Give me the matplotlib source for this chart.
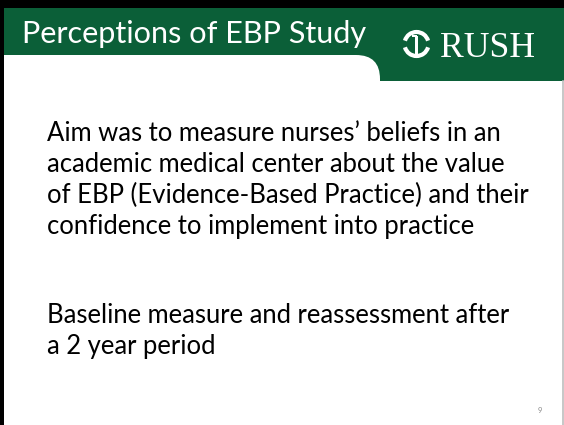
import matplotlib
matplotlib.use("Agg")
import matplotlib.pyplot as plt
from matplotlib.patches import Rectangle, FancyBboxPatch, Arc

# ---- content ----
title_text = "Perceptions of EBP Study"
logo_text = "RUSH"
paragraph1 = ["Aim was to measure nurses\u2019 beliefs in an",
              "academic medical center about the value",
              "of EBP (Evidence-Based Practice) and their",
              "confidence to implement into practice"]
paragraph2 = ["Baseline measure and reassessment after",
              "a 2 year period"]
page_number = "9"

GREEN = "#0b5f38"
W, H = 564, 425
BODY_FONT = ["Lato", "DejaVu Sans"]

fig = plt.figure(figsize=(W / 100, H / 100), dpi=100)
ax = fig.add_axes([0, 0, 1, 1])
ax.set_xlim(0, W)
ax.set_ylim(H, 0)
ax.axis("off")
fig.patch.set_facecolor("white")

# header band
ax.add_patch(Rectangle((0, 0), W, 81, facecolor=GREEN, edgecolor="none", zorder=1))
# white content area with rounded top-right corner
ax.add_patch(FancyBboxPatch((-100, 55), 480, 600,
                            boxstyle="round,pad=0,rounding_size=24",
                            facecolor="white", edgecolor="none", zorder=2))
ax.add_patch(Rectangle((0, 81), W, H, facecolor="white", edgecolor="none", zorder=1.5))
# borders
ax.add_patch(Rectangle((0, 0), W, 8, facecolor="black", edgecolor="none", zorder=5))
ax.add_patch(Rectangle((0, 0), 4, H, facecolor="black", edgecolor="none", zorder=5))
ax.plot([563, 563], [81, H], color="#bdbdbd", lw=1.2, zorder=5)

fig.canvas.draw()
renderer = fig.canvas.get_renderer()


def fitted_text(x, y, s, width, size0, **kw):
    t = ax.text(x, y, s, fontsize=size0, **kw)
    bb = t.get_window_extent(renderer=renderer)
    t.set_fontsize(size0 * width / bb.width)
    return t


# title
fitted_text(22, 43, title_text, 346, 20, color="white", family=BODY_FONT,
            va="baseline", ha="left", zorder=6)

# logo
fitted_text(440, 57, logo_text, 95, 20, color="white",
            family=["Liberation Serif", "DejaVu Serif"], va="baseline", ha="left", zorder=6)
cx, cy, r = 416.5, 44, 12
ax.add_patch(Arc((cx, cy), 2 * r, 2 * r, theta1=196, theta2=344, color="white", lw=3.0, zorder=6))
ax.add_patch(Arc((cx, cy), 2 * r, 2 * r, theta1=16, theta2=164, color="white", lw=3.0, zorder=6))
ax.add_patch(Rectangle((cx - 1.5, cy - 8), 3.0, 22, facecolor="white", edgecolor="none", zorder=6))
ax.add_patch(Rectangle((cx - 5, cy - 9), 5.5, 2.2, facecolor="white", edgecolor="none", zorder=6))

# body text
t0 = ax.text(47, 141, paragraph1[2], fontsize=18, family=BODY_FONT)
bb = t0.get_window_extent(renderer=renderer)
body_size = 18 * 480 / bb.width
t0.remove()

y = 141
for line in paragraph1:
    ax.text(47, y, line, fontsize=body_size, family=BODY_FONT, color="black",
            va="baseline", ha="left", zorder=6)
    y += 31
y = 323
for line in paragraph2:
    ax.text(47, y, line, fontsize=body_size, family=BODY_FONT, color="black",
            va="baseline", ha="left", zorder=6)
    y += 31

ax.text(538, 413, page_number, fontsize=5.5, color="#8a8a8a", family=BODY_FONT,
        va="baseline", ha="left", zorder=6)

fig.savefig("out.png", dpi=100, facecolor="white")
